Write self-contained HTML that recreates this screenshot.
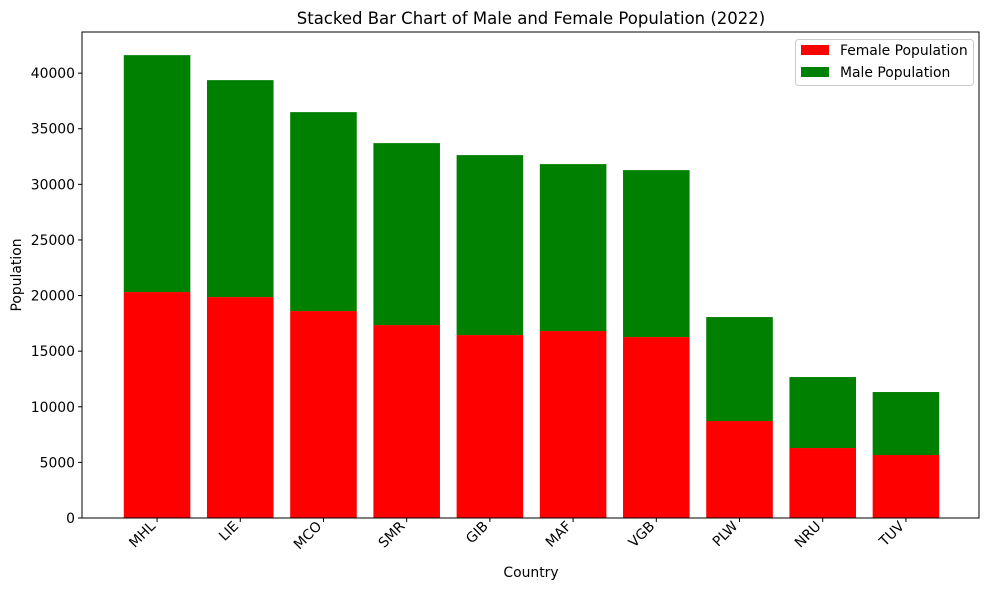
<!DOCTYPE html>
<html><head><meta charset="utf-8"><style>
body{margin:0;background:#fff;}
svg{display:block;font-family:"DejaVu Sans","Liberation Sans",sans-serif;}
</style></head><body>
<svg id="chart" width="989" height="590"></svg>
<script>
const categories=["MHL","LIE","MCO","SMR","GIB","MAF","VGB","PLW","NRU","TUV"];
const femaleValues=[20315,19865,18607,17348,16449,16809,16270,8719,6292,5663];
const maleValues=[21303,19506,17887,16360,16180,15011,15011,9348,6382,5663];
const yTicks=[0,5000,10000,15000,20000,25000,30000,35000,40000];
const NS="http://www.w3.org/2000/svg";
const svg=document.getElementById('chart');
const L=82,R=979,T=32,B=518;
const xMin=-0.89,xMax=9.89,yMax=43699;
const xs=i=>L+1+(i-xMin)/(xMax-xMin)*(R-L);
const ys=v=>B-v/yMax*(B-T);
function el(tag,attrs,parent){const e=document.createElementNS(NS,tag);for(const k in attrs)e.setAttribute(k,attrs[k]);(parent||svg).appendChild(e);return e;}
const bw=0.8*(R-L)/(xMax-xMin);
categories.forEach((c,i)=>{
  const f=femaleValues[i],m=maleValues[i];
  const r1=el('rect',{x:xs(i)-bw/2,y:ys(f),width:bw,height:ys(0)-ys(f),fill:'#ff0000'});
  
  
  const r2=el('rect',{x:xs(i)-bw/2,y:ys(f+m),width:bw,height:ys(f)-ys(f+m),fill:'#008000'});
  
  
  el('line',{x1:xs(i),x2:xs(i),y1:B,y2:B+4,stroke:'#000'});
  const ax=xs(i)-1, ay=B+9;
  const t=el('text',{x:ax,y:ay,'font-size':13.9,'text-anchor':'end',transform:`rotate(-45 ${ax} ${ay})`});
  t.textContent=c;
  
  
});
yTicks.forEach(v=>{
  el('line',{x1:L-4,x2:L,y1:ys(v),y2:ys(v),stroke:'#000'});
  const t=el('text',{x:L-7,y:ys(v)+5,'font-size':13.9,'text-anchor':'end'});
  t.textContent=v;
  
  
});
const frame=el('rect',{x:L,y:T,width:R-L,height:B-T,fill:'none',stroke:'#000'});


</script>
<div style="position:absolute;left:0;top:0;width:989px;height:590px;pointer-events:none;">
<svg width="989" height="590" style="position:absolute;left:0;top:0">
<text x="531" y="24" font-size="16.5" text-anchor="middle" font-family="DejaVu Sans, sans-serif">Stacked Bar Chart of Male and Female Population (2022)</text>
<text x="531" y="577" font-size="13.9" text-anchor="middle" font-family="DejaVu Sans, sans-serif">Country</text>
<text x="21" y="275" font-size="13.9" text-anchor="middle" font-family="DejaVu Sans, sans-serif" transform="rotate(-90 21 275)">Population</text>
<g>
<rect x="795.5" y="39.5" width="178" height="46" rx="3" fill="#fff" stroke="#ccc"/>
<rect x="801" y="45" width="28" height="10" fill="#ff0000"/>
<text x="840" y="55" font-size="13.9" font-family="DejaVu Sans, sans-serif">Female Population</text>
<rect x="801" y="67" width="28" height="10" fill="#008000"/>
<text x="840" y="77" font-size="13.9" font-family="DejaVu Sans, sans-serif">Male Population</text>
</g>
</svg></div>
</body></html>
